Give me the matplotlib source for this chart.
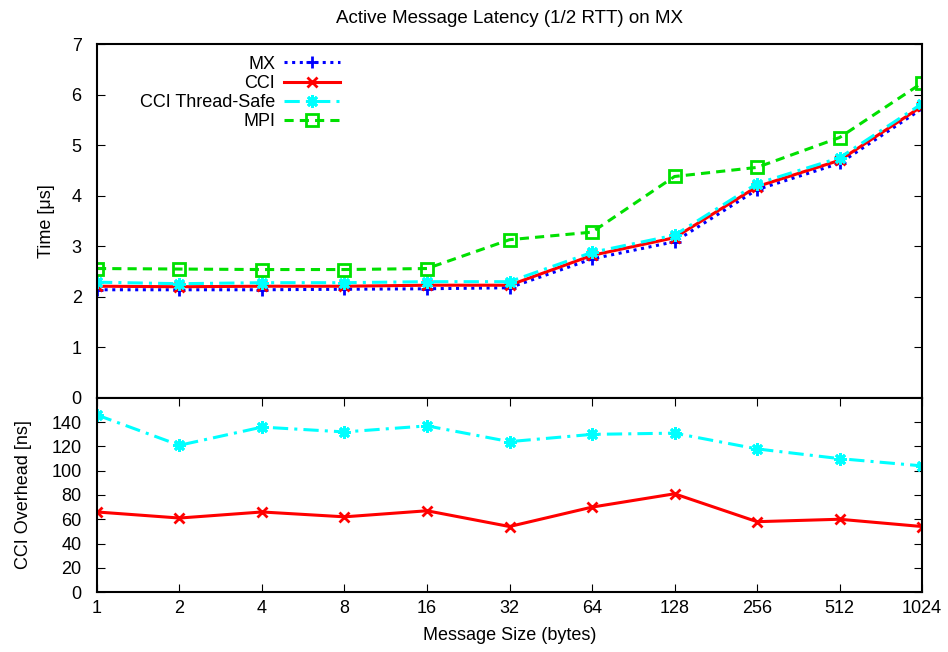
import numpy as np
import matplotlib
matplotlib.use("Agg")
import matplotlib.pyplot as plt

plt.rcParams['font.family'] = ['Liberation Sans', 'DejaVu Sans']

# message sizes (bytes)
sizes = [1, 2, 4, 8, 16, 32, 64, 128, 256, 512, 1024]
size_labels = [str(s) for s in sizes]

# latency (us)
mx = [2.14, 2.14, 2.14, 2.15, 2.16, 2.18, 2.75, 3.09, 4.12, 4.64, 5.72]
cci = [2.21, 2.20, 2.21, 2.21, 2.23, 2.23, 2.82, 3.17, 4.18, 4.70, 5.77]
cci_ts = [2.29, 2.26, 2.28, 2.28, 2.30, 2.30, 2.88, 3.22, 4.24, 4.75, 5.82]
mpi = [2.56, 2.55, 2.54, 2.54, 2.56, 3.13, 3.28, 4.38, 4.56, 5.15, 6.23]

# CCI overhead vs MX (ns)
ovh_cci = [66, 61, 66, 62, 67, 54, 70, 81, 58, 60, 54]
ovh_ts = [146, 121, 136, 132, 137, 124, 130, 131, 118, 110, 104]

fig = plt.figure(figsize=(9.48, 6.52), dpi=100)
ax1 = fig.add_axes([0.1023, 0.3896, 0.8703, 0.5429])
ax2 = fig.add_axes([0.1023, 0.092, 0.8703, 0.2976], sharex=ax1)

x = np.log2(sizes)
lw = 2.2
aster = (8, 2, 0)
green = '#00e000'
dashdot = (0, (5, 2, 1, 2))
fs = 13

ax1.plot(x, mx, color='blue', ls=(0, (1, 1.5)), lw=lw, marker='+', ms=8, mew=2, label='MX')
ax1.plot(x, cci, color='red', ls='-', lw=lw, marker='x', ms=7, mew=2, label='CCI')
ax1.plot(x, cci_ts, color='cyan', ls=dashdot, lw=lw, marker=aster, ms=9, mew=2,
         label='CCI Thread-Safe')
ax1.plot(x, mpi, color=green, ls=(0, (3, 2)), lw=lw, marker='s', ms=8, mew=2, mfc='none',
         label='MPI')

ax2.plot(x, ovh_ts, color='cyan', ls=dashdot, lw=lw, marker=aster, ms=9, mew=2)
ax2.plot(x, ovh_cci, color='red', ls='-', lw=lw, marker='x', ms=7, mew=2)

ax1.set_xlim(x[0], x[-1])
ax1.set_ylim(0, 7)
ax1.set_yticks(range(0, 8))
ax1.tick_params(axis='x', bottom=False, labelbottom=False)
ax1.tick_params(axis='y', direction='in', left=True, right=True, length=6, labelsize=fs, pad=11)
ax1.set_ylabel('Time [\u03bcs]', fontsize=fs, labelpad=12)
ax1.set_title('Active Message Latency (1/2 RTT) on MX', fontsize=13.5, pad=15)

ax2.set_ylim(0, 160)
ax2.set_yticks(range(0, 160, 20))
ax2.set_xticks(x)
ax2.set_xticklabels(size_labels)
ax2.tick_params(axis='both', direction='in', length=6, labelsize=fs,
                left=True, right=True, top=True, bottom=True)
ax2.tick_params(axis='x', pad=6)
ax2.tick_params(axis='y', pad=11)
ax2.set_ylabel('CCI Overhead [ns]', fontsize=fs, labelpad=14)
ax2.set_xlabel('Message Size (bytes)', fontsize=fs, labelpad=7)

for ax in (ax1, ax2):
    for s in ax.spines.values():
        s.set_linewidth(1.5)

leg = ax1.legend(loc='upper right', bbox_to_anchor=(0.309, 1.0), frameon=False, markerfirst=False,
                 fontsize=fs, handlelength=3.1, handletextpad=0.5, labelspacing=0.12,
                 borderaxespad=0.25)
for t in leg.get_texts():
    t.set_ha('right')
leg._legend_box.align = 'right'

fig.savefig('out.png', dpi=100)
